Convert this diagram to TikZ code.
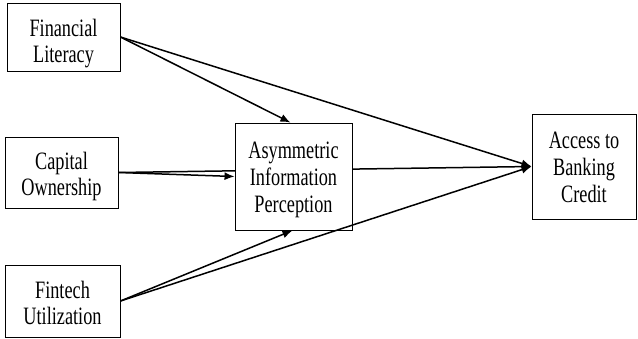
\documentclass[tikz,border=0pt]{standalone}
\usepackage{fontspec}
\setmainfont{Liberation Serif}[FakeStretch=0.73]
\usetikzlibrary{arrows.meta,backgrounds,calc}
\begin{document}
\begin{tikzpicture}[x=1pt,y=-1pt,
  box/.style={draw,line width=0.9pt,fill=white,align=center,inner sep=0pt,text depth=0pt},
  two/.style={font=\fontsize{25}{26}\selectfont},
  three/.style={font=\fontsize{25}{26.8}\selectfont},
  conn/.style={line width=1.5pt,-{Latex[length=10pt,width=8pt]}}]
\useasboundingbox (0,0) rectangle (638,338);
\node[box,two,text height=50pt,minimum width=113pt,minimum height=68pt] (fl) at (63.5,37) {Financial\\Literacy};
\node[box,two,text height=45pt,minimum width=113pt,minimum height=71pt] (co) at (61.5,172.5) {Capital\\Ownership};
\node[box,two,text height=46pt,minimum width=115pt,minimum height=72pt] (ft) at (62.5,301) {Fintech\\Utilization};
\node[box,three,text height=71pt,minimum width=117pt,minimum height=107pt] (aip) at (293.5,176.5) {Asymmetric\\Information\\Perception};
\node[box,three,text height=71pt,minimum width=104pt,minimum height=105pt] (abc) at (584,166.5) {Access to\\Banking\\Credit};
\begin{scope}[on background layer]
  \draw[conn] (co.east) -- (abc.west);
\end{scope}
\draw[conn] (fl.east) -- ($(aip.north)+(-3,0)$);
\draw[conn] (fl.east) -- (abc.west);
\draw[conn] (co.east) -- (aip.west);
\draw[conn] (ft.east) -- ($(aip.south)+(-1,0)$);
\draw[conn] (ft.east) -- (abc.west);
\end{tikzpicture}
\end{document}
